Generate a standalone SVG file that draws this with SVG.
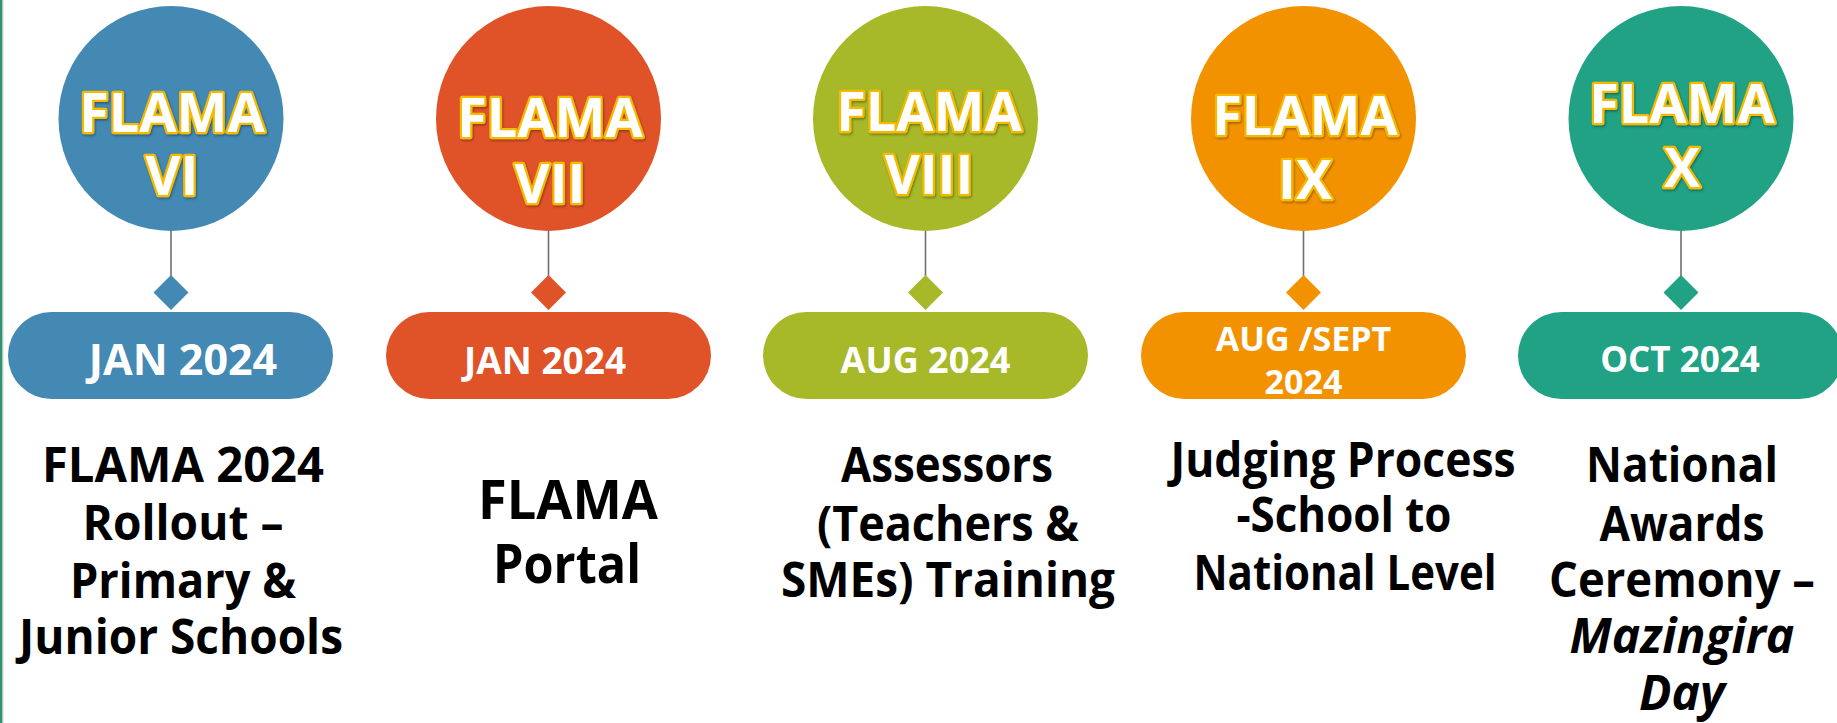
<svg xmlns="http://www.w3.org/2000/svg" width="1837" height="723" viewBox="0 0 1837 723">
<defs>
<style>
.flama{font-family:"Open Sans","Noto Sans","Liberation Sans",sans-serif;font-weight:700;font-size:54px;fill:#fff;stroke:#F5BA00;stroke-width:4.5px;stroke-linejoin:round;paint-order:stroke;text-anchor:middle;filter:url(#sh)}
.date{font-family:"Open Sans","Noto Sans","Liberation Sans",sans-serif;font-weight:700;fill:#fff;text-anchor:middle}
.desc{font-family:"Open Sans","Noto Sans","Liberation Sans",sans-serif;font-weight:700;font-size:48px;fill:#000;text-anchor:middle}
.big{font-size:53px}
.it{font-style:italic}
.stem{stroke:#6f6f6f;stroke-width:1.6}
</style>
<filter id="sh" x="-10%" y="-20%" width="120%" height="140%">
<feDropShadow dx="1" dy="1.5" stdDeviation="1.2" flood-color="#000" flood-opacity="0.35"/>
</filter>
</defs>
<rect width="1837" height="723" fill="#fff"/>
<rect x="0" y="0" width="2.5" height="723" fill="#2E9470"/>
<rect x="2.5" y="0" width="1" height="723" fill="#c8d0cc"/>

<g id="connectors">
<line class="stem" x1="171" y1="231" x2="171" y2="276"/>
<line class="stem" x1="548.5" y1="231" x2="548.5" y2="276"/>
<line class="stem" x1="925.5" y1="231" x2="925.5" y2="276"/>
<line class="stem" x1="1303.5" y1="231" x2="1303.5" y2="276"/>
<line class="stem" x1="1681" y1="231" x2="1681" y2="276"/>
</g>

<g id="node-vi">
<circle cx="171" cy="118.5" r="112.5" fill="#4389B4"/>
<text class="flama" x="172" y="132">FLAMA</text>
<text class="flama" x="172" y="195">VI</text>
<polygon points="171,275 188.5,292.5 171,310 153.5,292.5" fill="#4389B4"/>
<rect x="8" y="312" width="325" height="87" rx="43.5" fill="#4389B4"/>
<text class="date" x="183" y="375" font-size="43">JAN 2024</text>
<text class="desc" x="183" y="482" textLength="282" lengthAdjust="spacingAndGlyphs">FLAMA 2024</text>
<text class="desc" x="183" y="540" textLength="201" lengthAdjust="spacingAndGlyphs">Rollout –</text>
<text class="desc" x="183" y="598" textLength="226" lengthAdjust="spacingAndGlyphs">Primary &amp;</text>
<text class="desc" x="181" y="654" textLength="324" lengthAdjust="spacingAndGlyphs">Junior Schools</text>
</g>

<g id="node-vii">
<circle cx="548.5" cy="118.5" r="112.5" fill="#E05329"/>
<text class="flama" x="550" y="137">FLAMA</text>
<text class="flama" x="550" y="203">VII</text>
<polygon points="548.5,275 566,292.5 548.5,310 531,292.5" fill="#E05329"/>
<rect x="386" y="312" width="325" height="87" rx="43.5" fill="#E05329"/>
<text class="date" x="545" y="374" font-size="37">JAN 2024</text>
<text class="desc big" x="568" y="519" textLength="180" lengthAdjust="spacingAndGlyphs">FLAMA</text>
<text class="desc big" x="567" y="583" textLength="148" lengthAdjust="spacingAndGlyphs">Portal</text>
</g>

<g id="node-viii">
<circle cx="925.5" cy="118.5" r="112.5" fill="#A7B928"/>
<text class="flama" x="929" y="131">FLAMA</text>
<text class="flama" x="929" y="194">VIII</text>
<polygon points="925.5,275 943,292.5 925.5,310 908,292.5" fill="#A7B928"/>
<rect x="763" y="312" width="325" height="87" rx="43.5" fill="#A7B928"/>
<text class="date" x="925.5" y="373" font-size="36">AUG 2024</text>
<text class="desc" x="947" y="482" textLength="212" lengthAdjust="spacingAndGlyphs">Assessors</text>
<text class="desc" x="948" y="541" textLength="262" lengthAdjust="spacingAndGlyphs">(Teachers &amp;</text>
<text class="desc" x="948" y="597" textLength="334" lengthAdjust="spacingAndGlyphs">SMEs) Training</text>
</g>

<g id="node-ix">
<circle cx="1303.5" cy="118.5" r="112.5" fill="#F39200"/>
<text class="flama" x="1305" y="135">FLAMA</text>
<text class="flama" x="1305" y="199">IX</text>
<polygon points="1303.5,275 1321,292.5 1303.5,310 1286,292.5" fill="#F39200"/>
<rect x="1141" y="312" width="325" height="87" rx="43.5" fill="#F39200"/>
<text class="date" x="1303.5" y="351" font-size="34">AUG /SEPT</text>
<text class="date" x="1303.5" y="394" font-size="34">2024</text>
<text class="desc" x="1343" y="477" textLength="345" lengthAdjust="spacingAndGlyphs">Judging Process</text>
<text class="desc" x="1344" y="532" textLength="215" lengthAdjust="spacingAndGlyphs">-School to</text>
<text class="desc" x="1345" y="590" textLength="303" lengthAdjust="spacingAndGlyphs">National Level</text>
</g>

<g id="node-x">
<circle cx="1681" cy="118.5" r="112.5" fill="#21A284"/>
<text class="flama" x="1682" y="123">FLAMA</text>
<text class="flama" x="1682" y="187">X</text>
<polygon points="1681,275 1698.5,292.5 1681,310 1663.5,292.5" fill="#21A284"/>
<rect x="1518" y="312" width="325" height="87" rx="43.5" fill="#21A284"/>
<text class="date" x="1680" y="372" font-size="35">OCT 2024</text>
<text class="desc" x="1682" y="482" textLength="192" lengthAdjust="spacingAndGlyphs">National</text>
<text class="desc" x="1682" y="541" textLength="165" lengthAdjust="spacingAndGlyphs">Awards</text>
<text class="desc" x="1682" y="597" textLength="266" lengthAdjust="spacingAndGlyphs">Ceremony –</text>
<text class="desc it" x="1682" y="653">Mazingira</text>
<text class="desc it" x="1682" y="710">Day</text>
</g>
</svg>
